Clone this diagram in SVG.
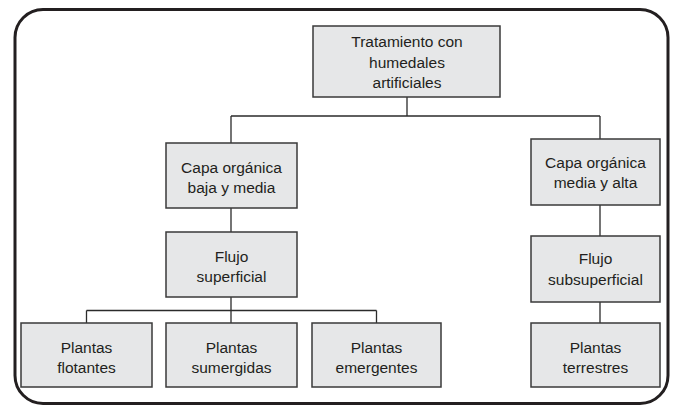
<svg xmlns="http://www.w3.org/2000/svg" width="675" height="407" viewBox="0 0 675 407">
<style>
.box{fill:#e6e7e8;stroke:#3a3a3a;stroke-width:1.5}
.c{fill:none;stroke:#2b2b2b;stroke-width:1.3}
text{font-family:"Liberation Sans",Arial,sans-serif;font-size:15.5px;fill:#231f20;text-anchor:middle}
</style>
<rect x="15" y="9.5" width="653" height="394" rx="28" fill="#ffffff" stroke="#231f20" stroke-width="3"/>
<g id="connectors">
<path class="c" d="M407 97V116M231 116H600M231 116V143M600 116V139M231 208V232M600 205V236M231 297V323M86.5 310.5H376.5M86.5 310.5V323M376.5 310.5V323M600 302V323"/>
</g>
<g id="n-root">
<rect class="box" x="313" y="26" width="187" height="71"/>
<text x="407" y="47">Tratamiento con</text>
<text x="407" y="67.5">humedales</text>
<text x="407" y="88">artificiales</text>
</g>
<g id="n-capa-baja">
<rect class="box" x="166" y="143" width="131" height="65"/>
<text x="231.5" y="173">Capa orgánica</text>
<text x="231.5" y="193">baja y media</text>
</g>
<g id="n-capa-alta">
<rect class="box" x="531" y="139" width="129" height="66"/>
<text x="595.5" y="167.5">Capa orgánica</text>
<text x="595.5" y="188">media y alta</text>
</g>
<g id="n-flujo-sup">
<rect class="box" x="166" y="232" width="131" height="65"/>
<text x="231.5" y="262">Flujo</text>
<text x="231.5" y="282">superficial</text>
</g>
<g id="n-flujo-sub">
<rect class="box" x="531" y="236" width="129" height="66"/>
<text x="595.5" y="264">Flujo</text>
<text x="595.5" y="285">subsuperficial</text>
</g>
<g id="n-flotantes">
<rect class="box" x="21" y="323" width="131" height="64"/>
<text x="86.5" y="353">Plantas</text>
<text x="86.5" y="373">flotantes</text>
</g>
<g id="n-sumergidas">
<rect class="box" x="166" y="323" width="131" height="64"/>
<text x="231.5" y="353">Plantas</text>
<text x="231.5" y="373">sumergidas</text>
</g>
<g id="n-emergentes">
<rect class="box" x="312" y="323" width="129" height="64"/>
<text x="376.5" y="353">Plantas</text>
<text x="376.5" y="373">emergentes</text>
</g>
<g id="n-terrestres">
<rect class="box" x="531" y="323" width="129" height="64"/>
<text x="595.5" y="353">Plantas</text>
<text x="595.5" y="373">terrestres</text>
</g>
</svg>
